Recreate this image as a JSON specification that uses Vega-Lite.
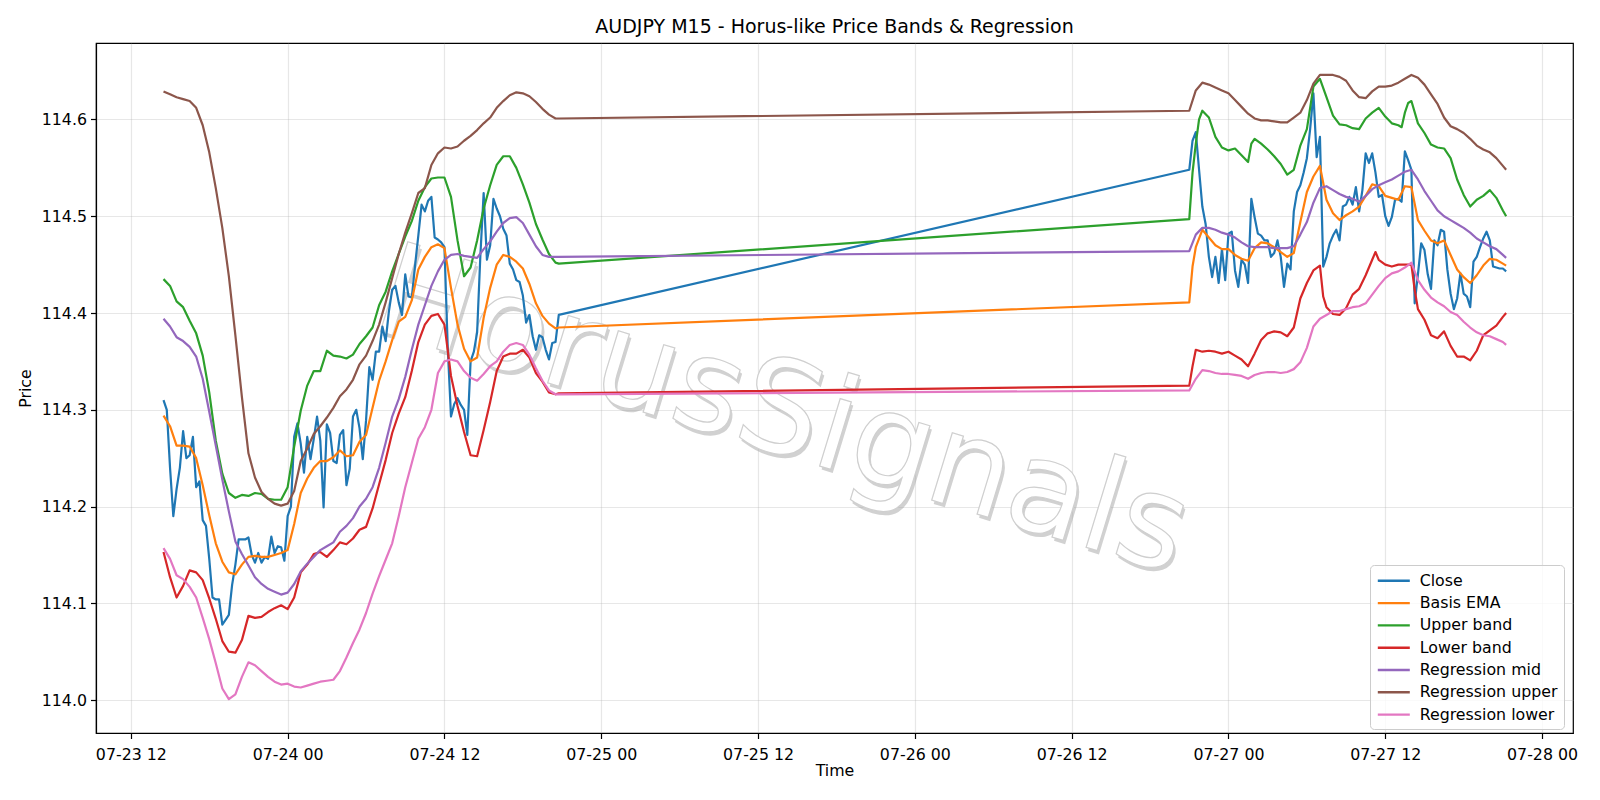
{
"$schema":"https://vega.github.io/schema/vega-lite/v6.json",
"width":1477,"height":690,
"autosize":{"type":"none"},
"padding":{"left":96,"top":43,"right":27,"bottom":67},
"background":"white",
"title":{"text":"AUDJPY M15 - Horus-like Price Bands & Regression","font":"DejaVu Sans","fontSize":19,"fontWeight":"normal","color":"black","anchor":"middle","offset":6},
"config":{
"view":{"stroke":"black","strokeWidth":1.2},
"axis":{"labelFont":"DejaVu Sans","labelFontSize":15.8,"labelColor":"black","titleFont":"DejaVu Sans","titleFontSize":15.8,"titleFontWeight":"normal","titleColor":"black","tickColor":"black","tickSize":5.5,"tickWidth":1.2,"domainColor":"black","domainWidth":1.2,"gridColor":"#b0b0b0","gridOpacity":0.3,"gridWidth":1.2,"labelPadding":4,"labelFlush":false,"labelOverlap":false}
},
"datasets":{
"wm":[{"t":"2025-07-25T13:50","value":114.296,"label":"HorusSignals"}],
"bars":[
{"t":"2025-07-23T14:30","Close":114.310,"Basis EMA":114.294,"Upper band":114.435,"Lower band":114.153,"Regression mid":114.394,"Regression upper":114.629,"Regression lower":114.157},
{"t":"2025-07-23T14:45","Close":114.300},
{"t":"2025-07-23T15:00","Close":114.240,"Basis EMA":114.283,"Upper band":114.428,"Lower band":114.127,"Regression mid":114.386,"Regression upper":114.626,"Regression lower":114.146},
{"t":"2025-07-23T15:15","Close":114.190},
{"t":"2025-07-23T15:30","Close":114.218,"Basis EMA":114.263,"Upper band":114.412,"Lower band":114.106,"Regression mid":114.375,"Regression upper":114.623,"Regression lower":114.129},
{"t":"2025-07-23T15:45","Close":114.240},
{"t":"2025-07-23T16:00","Close":114.278,"Basis EMA":114.263,"Upper band":114.406,"Lower band":114.118,"Regression mid":114.371,"Regression upper":114.621,"Regression lower":114.125},
{"t":"2025-07-23T16:15","Close":114.250},
{"t":"2025-07-23T16:30","Close":114.253,"Basis EMA":114.262,"Upper band":114.392,"Lower band":114.134,"Regression mid":114.365,"Regression upper":114.619,"Regression lower":114.117},
{"t":"2025-07-23T16:45","Close":114.272},
{"t":"2025-07-23T17:00","Close":114.220,"Basis EMA":114.250,"Upper band":114.379,"Lower band":114.132,"Regression mid":114.355,"Regression upper":114.612,"Regression lower":114.106},
{"t":"2025-07-23T17:15","Close":114.226},
{"t":"2025-07-23T17:30","Close":114.186,"Basis EMA":114.222,"Upper band":114.356,"Lower band":114.124,"Regression mid":114.332,"Regression upper":114.594,"Regression lower":114.085},
{"t":"2025-07-23T17:45","Close":114.180},
{"t":"2025-07-23T18:00","Close":114.146,"Basis EMA":114.191,"Upper band":114.318,"Lower band":114.105,"Regression mid":114.298,"Regression upper":114.566,"Regression lower":114.063},
{"t":"2025-07-23T18:15","Close":114.106},
{"t":"2025-07-23T18:30","Close":114.104,"Basis EMA":114.162,"Upper band":114.268,"Lower band":114.084,"Regression mid":114.263,"Regression upper":114.529,"Regression lower":114.038},
{"t":"2025-07-23T18:45","Close":114.104},
{"t":"2025-07-23T19:00","Close":114.078,"Basis EMA":114.143,"Upper band":114.234,"Lower band":114.061,"Regression mid":114.228,"Regression upper":114.488,"Regression lower":114.012},
{"t":"2025-07-23T19:15","Close":114.083},
{"t":"2025-07-23T19:30","Close":114.088,"Basis EMA":114.132,"Upper band":114.214,"Lower band":114.050,"Regression mid":114.195,"Regression upper":114.438,"Regression lower":114.001},
{"t":"2025-07-23T19:45","Close":114.119},
{"t":"2025-07-23T20:00","Close":114.140,"Basis EMA":114.130,"Upper band":114.209,"Lower band":114.049,"Regression mid":114.164,"Regression upper":114.377,"Regression lower":114.006},
{"t":"2025-07-23T20:15","Close":114.166},
{"t":"2025-07-23T20:30","Close":114.166,"Basis EMA":114.140,"Upper band":114.212,"Lower band":114.062,"Regression mid":114.151,"Regression upper":114.313,"Regression lower":114.024},
{"t":"2025-07-23T20:45","Close":114.166},
{"t":"2025-07-23T21:00","Close":114.168,"Basis EMA":114.148,"Upper band":114.211,"Lower band":114.087,"Regression mid":114.139,"Regression upper":114.255,"Regression lower":114.039},
{"t":"2025-07-23T21:15","Close":114.150},
{"t":"2025-07-23T21:30","Close":114.142,"Basis EMA":114.149,"Upper band":114.214,"Lower band":114.085,"Regression mid":114.127,"Regression upper":114.230,"Regression lower":114.036},
{"t":"2025-07-23T21:45","Close":114.152},
{"t":"2025-07-23T22:00","Close":114.142,"Basis EMA":114.148,"Upper band":114.213,"Lower band":114.086,"Regression mid":114.120,"Regression upper":114.215,"Regression lower":114.030},
{"t":"2025-07-23T22:15","Close":114.148},
{"t":"2025-07-23T22:30","Close":114.146,"Basis EMA":114.148,"Upper band":114.208,"Lower band":114.091,"Regression mid":114.115,"Regression upper":114.208,"Regression lower":114.024},
{"t":"2025-07-23T22:45","Close":114.169},
{"t":"2025-07-23T23:00","Close":114.152,"Basis EMA":114.150,"Upper band":114.207,"Lower band":114.095,"Regression mid":114.112,"Regression upper":114.203,"Regression lower":114.019},
{"t":"2025-07-23T23:15","Close":114.159},
{"t":"2025-07-23T23:30","Close":114.158,"Basis EMA":114.152,"Upper band":114.207,"Lower band":114.098,"Regression mid":114.109,"Regression upper":114.201,"Regression lower":114.016},
{"t":"2025-07-23T23:45","Close":114.144},
{"t":"2025-07-24T00:00","Close":114.190,"Basis EMA":114.155,"Upper band":114.220,"Lower band":114.094,"Regression mid":114.111,"Regression upper":114.203,"Regression lower":114.017},
{"t":"2025-07-24T00:15","Close":114.200},
{"t":"2025-07-24T00:30","Close":114.272,"Basis EMA":114.182,"Upper band":114.262,"Lower band":114.106,"Regression mid":114.120,"Regression upper":114.216,"Regression lower":114.014},
{"t":"2025-07-24T00:45","Close":114.286},
{"t":"2025-07-24T01:00","Close":114.265,"Basis EMA":114.214,"Upper band":114.299,"Lower band":114.132,"Regression mid":114.133,"Regression upper":114.247,"Regression lower":114.013},
{"t":"2025-07-24T01:15","Close":114.235},
{"t":"2025-07-24T01:30","Close":114.272,"Basis EMA":114.229,"Upper band":114.325,"Lower band":114.140,"Regression mid":114.141,"Regression upper":114.260,"Regression lower":114.015},
{"t":"2025-07-24T01:45","Close":114.249},
{"t":"2025-07-24T02:00","Close":114.270,"Basis EMA":114.240,"Upper band":114.340,"Lower band":114.151,"Regression mid":114.148,"Regression upper":114.275,"Regression lower":114.017},
{"t":"2025-07-24T02:15","Close":114.293},
{"t":"2025-07-24T02:30","Close":114.268,"Basis EMA":114.247,"Upper band":114.340,"Lower band":114.153,"Regression mid":114.155,"Regression upper":114.283,"Regression lower":114.019},
{"t":"2025-07-24T02:45","Close":114.199},
{"t":"2025-07-24T03:00","Close":114.285,"Basis EMA":114.247,"Upper band":114.361,"Lower band":114.148,"Regression mid":114.159,"Regression upper":114.292,"Regression lower":114.020},
{"t":"2025-07-24T03:15","Close":114.276},
{"t":"2025-07-24T03:30","Close":114.247,"Basis EMA":114.251,"Upper band":114.356,"Lower band":114.155,"Regression mid":114.163,"Regression upper":114.302,"Regression lower":114.021},
{"t":"2025-07-24T03:45","Close":114.245},
{"t":"2025-07-24T04:00","Close":114.274,"Basis EMA":114.258,"Upper band":114.355,"Lower band":114.163,"Regression mid":114.174,"Regression upper":114.314,"Regression lower":114.030},
{"t":"2025-07-24T04:15","Close":114.279},
{"t":"2025-07-24T04:30","Close":114.222,"Basis EMA":114.252,"Upper band":114.353,"Lower band":114.161,"Regression mid":114.180,"Regression upper":114.321,"Regression lower":114.044},
{"t":"2025-07-24T04:45","Close":114.239},
{"t":"2025-07-24T05:00","Close":114.293,"Basis EMA":114.253,"Upper band":114.357,"Lower band":114.167,"Regression mid":114.188,"Regression upper":114.331,"Regression lower":114.059},
{"t":"2025-07-24T05:15","Close":114.300},
{"t":"2025-07-24T05:30","Close":114.281,"Basis EMA":114.267,"Upper band":114.368,"Lower band":114.176,"Regression mid":114.200,"Regression upper":114.347,"Regression lower":114.073},
{"t":"2025-07-24T05:45","Close":114.249},
{"t":"2025-07-24T06:00","Close":114.289,"Basis EMA":114.274,"Upper band":114.376,"Lower band":114.179,"Regression mid":114.208,"Regression upper":114.356,"Regression lower":114.090},
{"t":"2025-07-24T06:15","Close":114.344},
{"t":"2025-07-24T06:30","Close":114.331,"Basis EMA":114.302,"Upper band":114.385,"Lower band":114.198,"Regression mid":114.220,"Regression upper":114.371,"Regression lower":114.110},
{"t":"2025-07-24T06:45","Close":114.360},
{"t":"2025-07-24T07:00","Close":114.360,"Basis EMA":114.330,"Upper band":114.408,"Lower band":114.223,"Regression mid":114.240,"Regression upper":114.388,"Regression lower":114.128},
{"t":"2025-07-24T07:15","Close":114.386},
{"t":"2025-07-24T07:30","Close":114.371,"Basis EMA":114.350,"Upper band":114.422,"Lower band":114.248,"Regression mid":114.266,"Regression upper":114.411,"Regression lower":114.145},
{"t":"2025-07-24T07:45","Close":114.402},
{"t":"2025-07-24T08:00","Close":114.424,"Basis EMA":114.372,"Upper band":114.443,"Lower band":114.276,"Regression mid":114.293,"Regression upper":114.436,"Regression lower":114.162},
{"t":"2025-07-24T08:15","Close":114.428},
{"t":"2025-07-24T08:30","Close":114.411,"Basis EMA":114.391,"Upper band":114.461,"Lower band":114.296,"Regression mid":114.311,"Regression upper":114.461,"Regression lower":114.190},
{"t":"2025-07-24T08:45","Close":114.398},
{"t":"2025-07-24T09:00","Close":114.440,"Basis EMA":114.396,"Upper band":114.479,"Lower band":114.313,"Regression mid":114.334,"Regression upper":114.483,"Regression lower":114.220},
{"t":"2025-07-24T09:15","Close":114.417},
{"t":"2025-07-24T09:30","Close":114.416,"Basis EMA":114.413,"Upper band":114.495,"Lower band":114.340,"Regression mid":114.362,"Regression upper":114.503,"Regression lower":114.245},
{"t":"2025-07-24T09:45","Close":114.449},
{"t":"2025-07-24T10:00","Close":114.480,"Basis EMA":114.445,"Upper band":114.516,"Lower band":114.370,"Regression mid":114.388,"Regression upper":114.524,"Regression lower":114.270},
{"t":"2025-07-24T10:15","Close":114.512},
{"t":"2025-07-24T10:30","Close":114.505,"Basis EMA":114.458,"Upper band":114.530,"Lower band":114.388,"Regression mid":114.408,"Regression upper":114.529,"Regression lower":114.282},
{"t":"2025-07-24T10:45","Close":114.516},
{"t":"2025-07-24T11:00","Close":114.520,"Basis EMA":114.468,"Upper band":114.539,"Lower band":114.397,"Regression mid":114.428,"Regression upper":114.553,"Regression lower":114.300},
{"t":"2025-07-24T11:15","Close":114.478},
{"t":"2025-07-24T11:30","Close":114.476,"Basis EMA":114.471,"Upper band":114.540,"Lower band":114.399,"Regression mid":114.443,"Regression upper":114.565,"Regression lower":114.338},
{"t":"2025-07-24T11:45","Close":114.473},
{"t":"2025-07-24T12:00","Close":114.468,"Basis EMA":114.467,"Upper band":114.540,"Lower band":114.388,"Regression mid":114.455,"Regression upper":114.571,"Regression lower":114.350},
{"t":"2025-07-24T12:15","Close":114.365},
{"t":"2025-07-24T12:30","Close":114.293,"Basis EMA":114.426,"Upper band":114.520,"Lower band":114.335,"Regression mid":114.460,"Regression upper":114.570,"Regression lower":114.352},
{"t":"2025-07-24T12:45","Close":114.306},
{"t":"2025-07-24T13:00","Close":114.312,"Basis EMA":114.388,"Upper band":114.475,"Lower band":114.304,"Regression mid":114.461,"Regression upper":114.572,"Regression lower":114.350},
{"t":"2025-07-24T13:15","Close":114.305},
{"t":"2025-07-24T13:30","Close":114.300,"Basis EMA":114.363,"Upper band":114.438,"Lower band":114.277,"Regression mid":114.459,"Regression upper":114.578,"Regression lower":114.340},
{"t":"2025-07-24T13:45","Close":114.274},
{"t":"2025-07-24T14:00","Close":114.350,"Basis EMA":114.350,"Upper band":114.447,"Lower band":114.253,"Regression mid":114.458,"Regression upper":114.583,"Regression lower":114.333},
{"t":"2025-07-24T14:15","Close":114.360},
{"t":"2025-07-24T14:30","Close":114.380,"Basis EMA":114.354,"Upper band":114.475,"Lower band":114.252,"Regression mid":114.457,"Regression upper":114.589,"Regression lower":114.330},
{"t":"2025-07-24T14:45","Close":114.460},
{"t":"2025-07-24T15:00","Close":114.524,"Basis EMA":114.395,"Upper band":114.508,"Lower band":114.279,"Regression mid":114.466,"Regression upper":114.596,"Regression lower":114.337},
{"t":"2025-07-24T15:15","Close":114.455},
{"t":"2025-07-24T15:30","Close":114.470,"Basis EMA":114.426,"Upper band":114.532,"Lower band":114.308,"Regression mid":114.474,"Regression upper":114.602,"Regression lower":114.345},
{"t":"2025-07-24T15:45","Close":114.518},
{"t":"2025-07-24T16:00","Close":114.508,"Basis EMA":114.450,"Upper band":114.553,"Lower band":114.340,"Regression mid":114.484,"Regression upper":114.612,"Regression lower":114.350},
{"t":"2025-07-24T16:15","Close":114.500},
{"t":"2025-07-24T16:30","Close":114.487,"Basis EMA":114.460,"Upper band":114.562,"Lower band":114.355,"Regression mid":114.493,"Regression upper":114.619,"Regression lower":114.360},
{"t":"2025-07-24T16:45","Close":114.480},
{"t":"2025-07-24T17:00","Close":114.451,"Basis EMA":114.458,"Upper band":114.562,"Lower band":114.358,"Regression mid":114.498,"Regression upper":114.625,"Regression lower":114.367},
{"t":"2025-07-24T17:15","Close":114.445},
{"t":"2025-07-24T17:30","Close":114.434,"Basis EMA":114.453,"Upper band":114.550,"Lower band":114.358,"Regression mid":114.499,"Regression upper":114.628,"Regression lower":114.369},
{"t":"2025-07-24T17:45","Close":114.432},
{"t":"2025-07-24T18:00","Close":114.418,"Basis EMA":114.446,"Upper band":114.533,"Lower band":114.362,"Regression mid":114.493,"Regression upper":114.627,"Regression lower":114.367},
{"t":"2025-07-24T18:15","Close":114.390},
{"t":"2025-07-24T18:30","Close":114.398,"Basis EMA":114.430,"Upper band":114.514,"Lower band":114.354,"Regression mid":114.481,"Regression upper":114.624,"Regression lower":114.357},
{"t":"2025-07-24T18:45","Close":114.376},
{"t":"2025-07-24T19:00","Close":114.362,"Basis EMA":114.410,"Upper band":114.492,"Lower band":114.338,"Regression mid":114.469,"Regression upper":114.618,"Regression lower":114.343},
{"t":"2025-07-24T19:15","Close":114.377},
{"t":"2025-07-24T19:30","Close":114.375,"Basis EMA":114.397,"Upper band":114.476,"Lower band":114.329,"Regression mid":114.460,"Regression upper":114.611,"Regression lower":114.330},
{"t":"2025-07-24T19:45","Close":114.362},
{"t":"2025-07-24T20:00","Close":114.352,"Basis EMA":114.389,"Upper band":114.461,"Lower band":114.318,"Regression mid":114.458,"Regression upper":114.605,"Regression lower":114.320},
{"t":"2025-07-24T20:15","Close":114.369},
{"t":"2025-07-24T20:30","Close":114.370,"Basis EMA":114.384,"Upper band":114.452,"Lower band":114.316,"Regression mid":114.458,"Regression upper":114.601,"Regression lower":114.316},
{"t":"2025-07-24T20:45","Close":114.398,"Basis EMA":114.385,"Upper band":114.451,"Lower band":114.317,"Regression mid":114.458,"Regression upper":114.601,"Regression lower":114.316},
{"t":"2025-07-26T21:00","Close":114.548,"Basis EMA":114.411,"Upper band":114.497,"Lower band":114.325,"Regression mid":114.464,"Regression upper":114.609,"Regression lower":114.320},
{"t":"2025-07-26T21:15","Close":114.578,"Basis EMA":114.448,"Upper band":114.545,"Lower band":114.345},
{"t":"2025-07-26T21:30","Close":114.587,"Basis EMA":114.468,"Upper band":114.575,"Lower band":114.362,"Regression mid":114.481,"Regression upper":114.630,"Regression lower":114.332},
{"t":"2025-07-26T21:45","Close":114.548,"Upper band":114.600},
{"t":"2025-07-26T22:00","Close":114.510,"Basis EMA":114.486,"Upper band":114.609,"Lower band":114.360,"Regression mid":114.488,"Regression upper":114.638,"Regression lower":114.341},
{"t":"2025-07-26T22:15","Close":114.492},
{"t":"2025-07-26T22:30","Close":114.458,"Basis EMA":114.478,"Upper band":114.602,"Lower band":114.361,"Regression mid":114.488,"Regression upper":114.636,"Regression lower":114.340},
{"t":"2025-07-26T22:45","Close":114.437},
{"t":"2025-07-26T23:00","Close":114.458,"Basis EMA":114.470,"Upper band":114.582,"Lower band":114.360,"Regression mid":114.486,"Regression upper":114.633,"Regression lower":114.338},
{"t":"2025-07-26T23:15","Close":114.431},
{"t":"2025-07-26T23:30","Close":114.466,"Basis EMA":114.466,"Upper band":114.571,"Lower band":114.358,"Regression mid":114.483,"Regression upper":114.630,"Regression lower":114.337},
{"t":"2025-07-26T23:45","Close":114.434},
{"t":"2025-07-27T00:00","Close":114.482,"Basis EMA":114.466,"Upper band":114.568,"Lower band":114.360,"Regression mid":114.481,"Regression upper":114.627,"Regression lower":114.337},
{"t":"2025-07-27T00:15","Close":114.484},
{"t":"2025-07-27T00:30","Close":114.444,"Basis EMA":114.460,"Upper band":114.570,"Lower band":114.356,"Regression mid":114.478,"Regression upper":114.620,"Regression lower":114.336},
{"t":"2025-07-27T00:45","Close":114.427},
{"t":"2025-07-27T01:00","Close":114.455,"Basis EMA":114.456,"Upper band":114.563,"Lower band":114.352,"Regression mid":114.473,"Regression upper":114.613,"Regression lower":114.335},
{"t":"2025-07-27T01:15","Close":114.450},
{"t":"2025-07-27T01:30","Close":114.431,"Basis EMA":114.454,"Upper band":114.556,"Lower band":114.345,"Regression mid":114.469,"Regression upper":114.606,"Regression lower":114.332},
{"t":"2025-07-27T01:45","Close":114.518,"Upper band":114.575},
{"t":"2025-07-27T02:00","Close":114.499,"Basis EMA":114.467,"Upper band":114.580,"Lower band":114.358,"Regression mid":114.468,"Regression upper":114.601,"Regression lower":114.336},
{"t":"2025-07-27T02:15","Close":114.482},
{"t":"2025-07-27T02:30","Close":114.480,"Basis EMA":114.473,"Upper band":114.575,"Lower band":114.372,"Regression mid":114.468,"Regression upper":114.599,"Regression lower":114.338},
{"t":"2025-07-27T02:45","Close":114.475},
{"t":"2025-07-27T03:00","Close":114.475,"Basis EMA":114.472,"Upper band":114.569,"Lower band":114.379,"Regression mid":114.468,"Regression upper":114.599,"Regression lower":114.339},
{"t":"2025-07-27T03:15","Close":114.458},
{"t":"2025-07-27T03:30","Close":114.462,"Basis EMA":114.468,"Upper band":114.562,"Lower band":114.381,"Regression mid":114.467,"Regression upper":114.598,"Regression lower":114.339},
{"t":"2025-07-27T03:45","Close":114.475},
{"t":"2025-07-27T04:00","Close":114.458,"Basis EMA":114.463,"Upper band":114.554,"Lower band":114.380,"Regression mid":114.467,"Regression upper":114.597,"Regression lower":114.338},
{"t":"2025-07-27T04:15","Close":114.427},
{"t":"2025-07-27T04:30","Close":114.451,"Basis EMA":114.458,"Upper band":114.543,"Lower band":114.376,"Regression mid":114.467,"Regression upper":114.597,"Regression lower":114.339},
{"t":"2025-07-27T04:45","Close":114.445},
{"t":"2025-07-27T05:00","Close":114.505,"Basis EMA":114.462,"Upper band":114.548,"Lower band":114.385,"Regression mid":114.469,"Regression upper":114.602,"Regression lower":114.342},
{"t":"2025-07-27T05:15","Close":114.525},
{"t":"2025-07-27T05:30","Close":114.532,"Basis EMA":114.494,"Upper band":114.573,"Lower band":114.415,"Regression mid":114.481,"Regression upper":114.607,"Regression lower":114.349},
{"t":"2025-07-27T05:45","Close":114.545},
{"t":"2025-07-27T06:00","Close":114.560,"Basis EMA":114.525,"Upper band":114.590,"Lower band":114.431,"Regression mid":114.494,"Regression upper":114.620,"Regression lower":114.364},
{"t":"2025-07-27T06:15","Close":114.590},
{"t":"2025-07-27T06:30","Close":114.627,"Basis EMA":114.541,"Upper band":114.634,"Lower band":114.444,"Regression mid":114.514,"Regression upper":114.637,"Regression lower":114.386},
{"t":"2025-07-27T06:45","Close":114.561},
{"t":"2025-07-27T07:00","Close":114.582,"Basis EMA":114.552,"Upper band":114.642,"Lower band":114.449,"Regression mid":114.529,"Regression upper":114.646,"Regression lower":114.394},
{"t":"2025-07-27T07:15","Close":114.448,"Lower band":114.417},
{"t":"2025-07-27T07:30","Close":114.458,"Basis EMA":114.517,"Upper band":114.623,"Lower band":114.406,"Regression mid":114.531,"Regression upper":114.646,"Regression lower":114.398},
{"t":"2025-07-27T07:45","Close":114.472},
{"t":"2025-07-27T08:00","Close":114.480,"Basis EMA":114.503,"Upper band":114.604,"Lower band":114.399,"Regression mid":114.527,"Regression upper":114.646,"Regression lower":114.402},
{"t":"2025-07-27T08:15","Close":114.486},
{"t":"2025-07-27T08:30","Close":114.475,"Basis EMA":114.496,"Upper band":114.595,"Lower band":114.398,"Regression mid":114.523,"Regression upper":114.644,"Regression lower":114.402},
{"t":"2025-07-27T08:45","Close":114.510},
{"t":"2025-07-27T09:00","Close":114.512,"Basis EMA":114.501,"Upper band":114.594,"Lower band":114.405,"Regression mid":114.520,"Regression upper":114.640,"Regression lower":114.404},
{"t":"2025-07-27T09:15","Close":114.520},
{"t":"2025-07-27T09:30","Close":114.512,"Basis EMA":114.505,"Upper band":114.591,"Lower band":114.419,"Regression mid":114.518,"Regression upper":114.630,"Regression lower":114.406},
{"t":"2025-07-27T09:45","Close":114.530},
{"t":"2025-07-27T10:00","Close":114.505,"Basis EMA":114.510,"Upper band":114.590,"Lower band":114.425,"Regression mid":114.515,"Regression upper":114.623,"Regression lower":114.407},
{"t":"2025-07-27T10:15","Close":114.527},
{"t":"2025-07-27T10:30","Close":114.565,"Basis EMA":114.521,"Upper band":114.601,"Lower band":114.439,"Regression mid":114.521,"Regression upper":114.622,"Regression lower":114.410},
{"t":"2025-07-27T10:45","Close":114.555},
{"t":"2025-07-27T11:00","Close":114.565,"Basis EMA":114.533,"Upper band":114.607,"Lower band":114.455,"Regression mid":114.528,"Regression upper":114.629,"Regression lower":114.419},
{"t":"2025-07-27T11:15","Close":114.545,"Lower band":114.463},
{"t":"2025-07-27T11:30","Close":114.520,"Basis EMA":114.531,"Upper band":114.612,"Lower band":114.455,"Regression mid":114.532,"Regression upper":114.634,"Regression lower":114.428},
{"t":"2025-07-27T11:45","Close":114.522},
{"t":"2025-07-27T12:00","Close":114.500,"Basis EMA":114.521,"Upper band":114.603,"Lower band":114.450,"Regression mid":114.535,"Regression upper":114.634,"Regression lower":114.436},
{"t":"2025-07-27T12:15","Close":114.490},
{"t":"2025-07-27T12:30","Close":114.499,"Basis EMA":114.519,"Upper band":114.596,"Lower band":114.448,"Regression mid":114.538,"Regression upper":114.635,"Regression lower":114.441},
{"t":"2025-07-27T12:45","Close":114.517},
{"t":"2025-07-27T13:00","Close":114.518,"Basis EMA":114.517,"Upper band":114.594,"Lower band":114.450,"Regression mid":114.542,"Regression upper":114.638,"Regression lower":114.443},
{"t":"2025-07-27T13:15","Close":114.515,"Upper band":114.592},
{"t":"2025-07-27T13:30","Close":114.567,"Basis EMA":114.531,"Upper band":114.607,"Lower band":114.450,"Regression mid":114.546,"Regression upper":114.642,"Regression lower":114.447},
{"t":"2025-07-27T13:45","Close":114.558,"Upper band":114.617},
{"t":"2025-07-27T14:00","Close":114.548,"Basis EMA":114.530,"Upper band":114.619,"Lower band":114.450,"Regression mid":114.548,"Regression upper":114.646,"Regression lower":114.452},
{"t":"2025-07-27T14:15","Close":114.410,"Lower band":114.424},
{"t":"2025-07-27T14:30","Close":114.440,"Basis EMA":114.496,"Upper band":114.596,"Lower band":114.404,"Regression mid":114.538,"Regression upper":114.643,"Regression lower":114.434},
{"t":"2025-07-27T14:45","Close":114.472},
{"t":"2025-07-27T15:00","Close":114.465,"Basis EMA":114.485,"Upper band":114.586,"Lower band":114.393,"Regression mid":114.526,"Regression upper":114.636,"Regression lower":114.424},
{"t":"2025-07-27T15:15","Close":114.440},
{"t":"2025-07-27T15:30","Close":114.425,"Basis EMA":114.475,"Upper band":114.574,"Lower band":114.377,"Regression mid":114.516,"Regression upper":114.626,"Regression lower":114.416},
{"t":"2025-07-27T15:45","Close":114.475},
{"t":"2025-07-27T16:00","Close":114.470,"Basis EMA":114.472,"Upper band":114.571,"Lower band":114.374,"Regression mid":114.506,"Regression upper":114.616,"Regression lower":114.411},
{"t":"2025-07-27T16:15","Close":114.486},
{"t":"2025-07-27T16:30","Close":114.484,"Basis EMA":114.475,"Upper band":114.570,"Lower band":114.381,"Regression mid":114.500,"Regression upper":114.602,"Regression lower":114.407},
{"t":"2025-07-27T16:45","Close":114.445},
{"t":"2025-07-27T17:00","Close":114.420,"Basis EMA":114.460,"Upper band":114.560,"Lower band":114.366,"Regression mid":114.496,"Regression upper":114.593,"Regression lower":114.401},
{"t":"2025-07-27T17:15","Close":114.404},
{"t":"2025-07-27T17:30","Close":114.415,"Basis EMA":114.445,"Upper band":114.538,"Lower band":114.355,"Regression mid":114.492,"Regression upper":114.590,"Regression lower":114.398},
{"t":"2025-07-27T17:45","Close":114.441},
{"t":"2025-07-27T18:00","Close":114.420,"Basis EMA":114.437,"Upper band":114.522,"Lower band":114.355,"Regression mid":114.488,"Regression upper":114.586,"Regression lower":114.391},
{"t":"2025-07-27T18:15","Close":114.417},
{"t":"2025-07-27T18:30","Close":114.406,"Basis EMA":114.431,"Upper band":114.510,"Lower band":114.351,"Regression mid":114.483,"Regression upper":114.580,"Regression lower":114.385},
{"t":"2025-07-27T18:45","Close":114.453},
{"t":"2025-07-27T19:00","Close":114.458,"Basis EMA":114.439,"Upper band":114.517,"Lower band":114.361,"Regression mid":114.477,"Regression upper":114.573,"Regression lower":114.380},
{"t":"2025-07-27T19:15","Close":114.468},
{"t":"2025-07-27T19:30","Close":114.477,"Basis EMA":114.449,"Upper band":114.521,"Lower band":114.377,"Regression mid":114.473,"Regression upper":114.569,"Regression lower":114.377},
{"t":"2025-07-27T19:45","Close":114.484},
{"t":"2025-07-27T20:00","Close":114.475,"Basis EMA":114.456,"Upper band":114.527,"Lower band":114.382,"Regression mid":114.469,"Regression upper":114.566,"Regression lower":114.376},
{"t":"2025-07-27T20:15","Close":114.448},
{"t":"2025-07-27T20:30","Close":114.447,"Basis EMA":114.455,"Upper band":114.519,"Lower band":114.387,"Regression mid":114.466,"Regression upper":114.560,"Regression lower":114.373},
{"t":"2025-07-27T20:45","Close":114.446},
{"t":"2025-07-27T21:00","Close":114.446,"Basis EMA":114.451,"Upper band":114.506,"Lower band":114.396,"Regression mid":114.460,"Regression upper":114.552,"Regression lower":114.370},
{"t":"2025-07-27T21:15","Close":114.443,"Basis EMA":114.449,"Upper band":114.500,"Lower band":114.400,"Regression mid":114.457,"Regression upper":114.548,"Regression lower":114.367}
]},
"encoding":{
"x":{"field":"t","type":"temporal","scale":{"domain":[{"year":2025,"month":7,"date":23,"hours":9,"minutes":20},{"year":2025,"month":7,"date":28,"hours":2,"minutes":22}],"nice":false},
"axis":{"title":"Time","values":[{"year":2025,"month":7,"date":23,"hours":12},{"year":2025,"month":7,"date":24,"hours":0},{"year":2025,"month":7,"date":24,"hours":12},{"year":2025,"month":7,"date":25,"hours":0},{"year":2025,"month":7,"date":25,"hours":12},{"year":2025,"month":7,"date":26,"hours":0},{"year":2025,"month":7,"date":26,"hours":12},{"year":2025,"month":7,"date":27,"hours":0},{"year":2025,"month":7,"date":27,"hours":12},{"year":2025,"month":7,"date":28,"hours":0}],"format":"%m-%d %H","labelPadding":8.5,"titlePadding":2}},
"y":{"field":"value","type":"quantitative","scale":{"domain":[113.966,114.679],"nice":false,"zero":false},
"axis":{"title":"Price","values":[114.0,114.1,114.2,114.3,114.4,114.5,114.6],"format":".1f","titlePadding":8}}
},
"layer":[
{"data":{"name":"wm"},"mark":{"type":"text","font":"DejaVu Sans","fontSize":129,"angle":17,"align":"center","baseline":"middle","fill":"#9a9a9a","opacity":0.45,"dx":3,"dy":3},"encoding":{"text":{"field":"label","type":"nominal"}}},
{"data":{"name":"wm"},"mark":{"type":"text","font":"DejaVu Sans","fontSize":129,"angle":17,"align":"center","baseline":"middle","fill":"white","stroke":"#cfcfcf","strokeWidth":1.2},"encoding":{"text":{"field":"label","type":"nominal"}}},
{"data":{"name":"bars"},
"transform":[{"fold":["Close","Basis EMA","Upper band","Lower band","Regression mid","Regression upper","Regression lower"],"as":["series","value"]},{"filter":"isValid(datum.value)"}],
"mark":{"type":"line","strokeWidth":2.2,"strokeJoin":"round"},
"encoding":{"color":{"field":"series","type":"nominal",
"scale":{"domain":["Close","Basis EMA","Upper band","Lower band","Regression mid","Regression upper","Regression lower"],"range":["#1f77b4","#ff7f0e","#2ca02c","#d62728","#9467bd","#8c564b","#e377c2"]},
"legend":{"title":null,"orient":"none","legendX":1274,"legendY":522,"symbolType":"M-2,0H2","symbolStrokeWidth":2.4,"symbolSize":256,"symbolOffset":8,"labelFont":"DejaVu Sans","labelFontSize":15.8,"labelColor":"black","labelOffset":16.4,"labelLimit":400,"padding":6.3,"fillColor":"rgba(255,255,255,0.8)","strokeColor":"#cccccc","cornerRadius":4,"rowPadding":4.3}}}}
]
}
